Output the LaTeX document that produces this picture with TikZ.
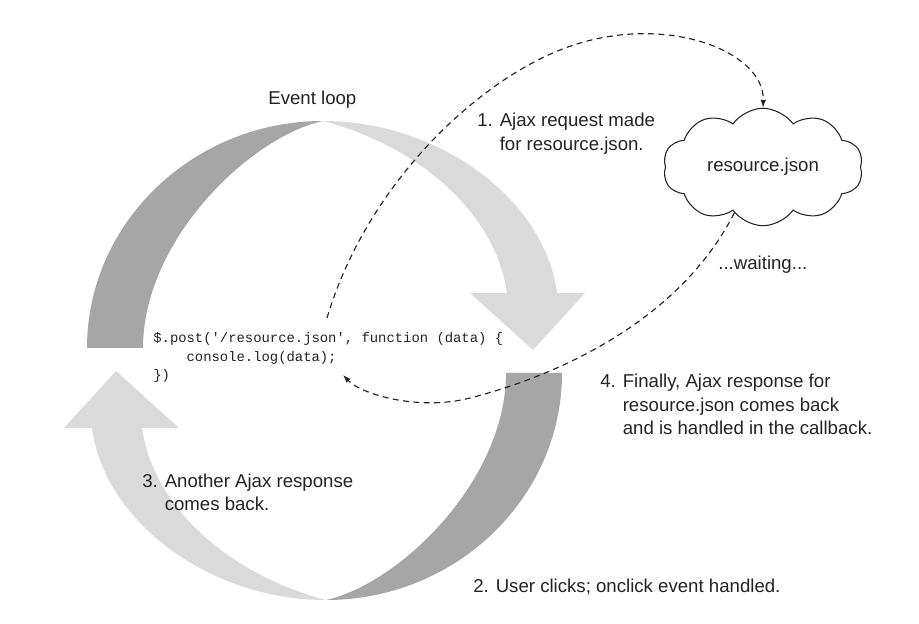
\documentclass[tikz,border=0pt]{standalone}
\usepackage{fontspec}
\setmainfont{Liberation Sans}
\setmonofont{Liberation Mono}
\usetikzlibrary{shapes.symbols,arrows.meta}
\definecolor{arrdark}{RGB}{166,166,166}
\definecolor{arrlight}{RGB}{218,218,218}
\definecolor{ink}{RGB}{35,35,35}
\begin{document}
\begin{tikzpicture}[x=0.02cm,y=-0.02cm,
  lbl/.style={font=\fontsize{10.6}{13.2}\selectfont, inner sep=0pt, anchor=base west, text=ink},
  codetext/.style={font=\fontsize{7.9}{10.5}\selectfont\ttfamily, inner sep=0pt, anchor=base west, text=ink},
  conn/.style={draw=ink, line width=0.65pt, dash pattern=on 3.4pt off 2.5pt, -{Latex[length=4.5pt,width=3.2pt]}},
  cloudbox/.style={cloud, draw=ink, line width=0.6pt, cloud puffs=10, cloud puff arc=110, cloud ignores aspect, minimum width=4.0cm, minimum height=2.35cm, inner sep=0pt, font=\fontsize{10.6}{13.2}\selectfont, text=ink},
  darkpart/.style={fill=arrdark, draw=none},
  lightpart/.style={fill=arrlight, draw=none}]
\useasboundingbox (0,0) rectangle (919,624);

% loop arrows (top one, then the same rotated by 180 degrees)
\foreach \ang in {0,180}{
  \begin{scope}[rotate around={\ang:(324.5,360.5)}]
    \path[darkpart] (87,348) .. controls (87,223) and (193,121) .. (323,121)
       .. controls (250,137) and (143,240) .. (143,348) -- cycle;
    \path[lightpart] (323,121) .. controls (440,121) and (545,200) .. (557,293)
       -- (585,293) -- (533,350) -- (470,293) -- (507,293)
       .. controls (495,210) and (415,145) .. (323,121) -- cycle;
  \end{scope}
}

% texts
\node[lbl] (loop) at (268,105) {Event loop};
\node[lbl] (step1) at (477,127) {\begin{tabular}[t]{@{}l@{ }l@{}}1.&Ajax request made\\&for resource.json.\end{tabular}};
\node[lbl] (wait) at (718,270) {...waiting...};
\node[lbl] (step4) at (600,388) {\begin{tabular}[t]{@{}l@{ }l@{}}4.&Finally, Ajax response for\\&resource.json comes back\\&and is handled in the callback.\end{tabular}};
\node[lbl] (step3) at (142,487) {\begin{tabular}[t]{@{}l@{ }l@{}}3.&Another Ajax response\\&comes back.\end{tabular}};
\node[lbl] (step2) at (473,592) {2. User clicks; onclick event handled.};

\node[codetext] (code) at (153,343) {\begin{tabular}[t]{@{}l@{}}\$.post('/resource.json', function (data) \{\\\phantom{0000}console.log(data);\\\})\end{tabular}};

\node[cloudbox] (res) at (763,167) {resource.json};

% connectors
\coordinate (req) at (327,318);
\coordinate (cb) at (343,375);
\draw[conn] (req) .. controls (365,190) and (470,86) .. (560,50)
   .. controls (660,10) and (765,50) .. (res.north);
\draw[conn] (res.-122) .. controls (680,320) and (560,375) .. (470,398)
   .. controls (420,411) and (362,395) .. (cb);
\end{tikzpicture}
\end{document}
